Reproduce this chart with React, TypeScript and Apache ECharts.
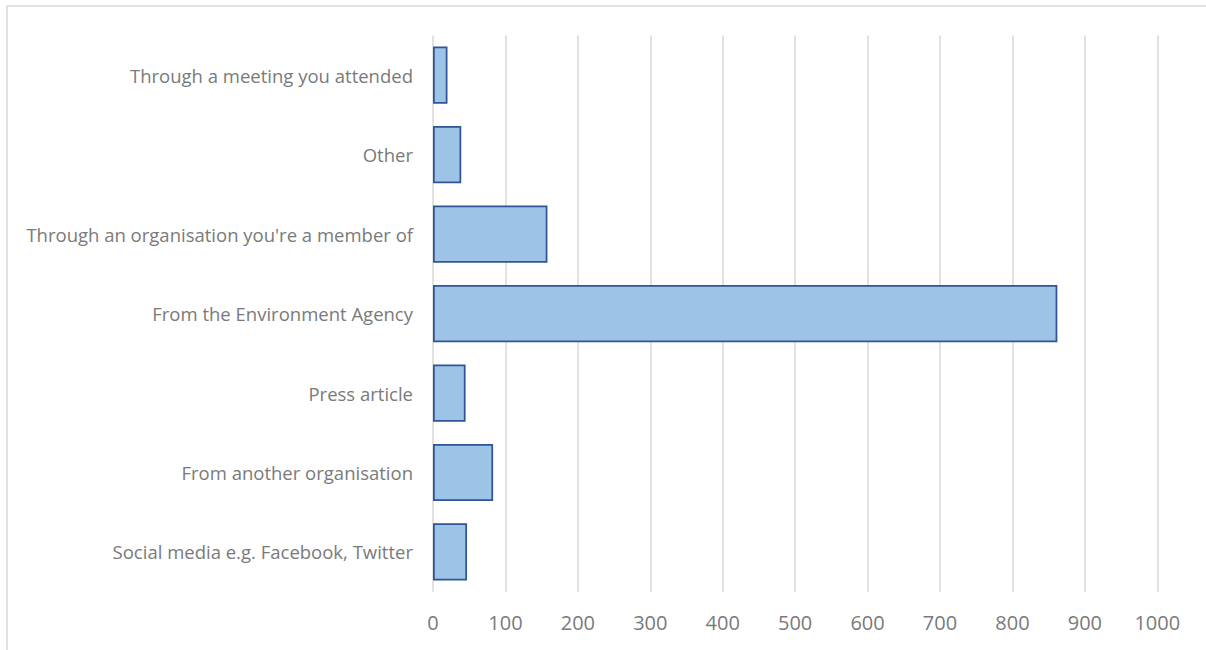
import React, { useEffect, useRef } from "react";
import * as echarts from "echarts";

const categories = [
  "Through a meeting you attended",
  "Other",
  "Through an organisation you're a member of",
  "From the Environment Agency",
  "Press article",
  "From another organisation",
  "Social media e.g. Facebook, Twitter",
];
const values = [20, 39, 158, 862, 45, 83, 47];
const xMin = 0;
const xMax = 1000;
const xInterval = 100;

export default function App() {
  const ref = useRef<HTMLDivElement>(null);
  useEffect(() => {
    if (!ref.current) return;
    const chart = echarts.init(ref.current, undefined, { renderer: "svg" });
    chart.setOption({
      animation: false,
      backgroundColor: "#ffffff",
      graphic: [
        {
          type: "rect",
          shape: { x: 7, y: 6, width: 1220, height: 680 },
          style: { fill: "none", stroke: "#d9d9d9", lineWidth: 1.5 },
          silent: true,
          z: 0,
        },
      ],
      grid: { left: 433, right: 48.7, top: 35.5, bottom: 58.3 },
      xAxis: {
        type: "value",
        min: xMin,
        max: xMax,
        interval: xInterval,
        axisLine: { show: false },
        axisTick: { show: false },
        splitLine: { show: true, lineStyle: { color: "#d9d9d9", width: 1.5 } },
        axisLabel: {
          color: "#7a7a7a",
          fontFamily: "Open Sans",
          fontSize: 20,
          margin: 21,
          formatter: (v: number) => String(v),
        },
      },
      yAxis: {
        type: "category",
        data: categories,
        inverse: true,
        axisLine: { show: false },
        axisTick: { show: false },
        splitLine: { show: false },
        axisLabel: {
          color: "#7a7a7a",
          fontFamily: "Open Sans",
          fontSize: 18.5,
          margin: 20,
        },
      },
      series: [
        {
          type: "bar",
          data: values,
          barCategoryGap: "28%",
          itemStyle: {
            color: "#9dc3e6",
            borderColor: "#2f5597",
            borderWidth: 1.75,
          },
        },
      ],
    });
    return () => chart.dispose();
  }, []);
  return (
    <div
      ref={ref}
      style={{ position: "absolute", left: 0, top: 0, width: 1206, height: 650 }}
    />
  );
}
